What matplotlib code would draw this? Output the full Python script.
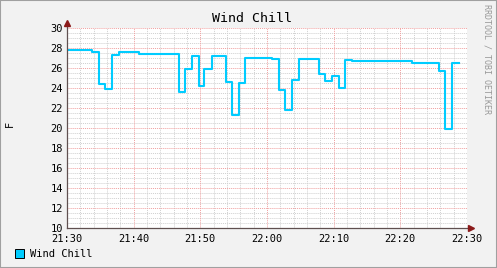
import matplotlib
matplotlib.use("Agg")
import matplotlib.pyplot as plt
from matplotlib.patches import Rectangle
import numpy as np

# minutes after 21:30 where the value changes
times = [0, 3.7, 4.8, 5.7, 6.7, 7.8, 10.8, 16.8, 17.65, 18.8, 19.8, 20.6, 21.8,
         23.8, 24.8, 25.8, 26.7, 30.7, 31.8, 32.75, 33.75, 34.8, 37.8, 38.75,
         39.75, 40.8, 41.7, 42.75, 51.75, 55.8, 56.7, 57.7]
values = [27.8, 27.6, 24.4, 23.9, 27.3, 27.6, 27.45, 23.6, 25.9, 27.2, 24.2, 25.9,
          27.25, 24.6, 21.35, 24.5, 27.05, 26.95, 23.8, 21.8, 24.8, 26.95, 25.4,
          24.7, 25.2, 24.0, 26.85, 26.75, 26.55, 25.7, 19.95, 26.55]
end_time = 58.8
xtick_labels = ["21:30", "21:40", "21:50", "22:00", "22:10", "22:20", "22:30"]
yticks = [10, 12, 14, 16, 18, 20, 22, 24, 26, 28, 30]
title = "Wind Chill"
ylabel = "F"
series_name = "Wind Chill"

W, H = 497, 268
fig = plt.figure(figsize=(W / 100, H / 100), dpi=100)
fig.patch.set_facecolor("#F2F2F2")
mono = "DejaVu Sans Mono"

x0, x1 = 67, 467
ytop, ybot = 28, 228
ax = fig.add_axes([x0 / W, 1 - ybot / H, (x1 - x0) / W, (ybot - ytop) / H])
ax.set_facecolor("white")
ax.set_xlim(0, 60)
ax.set_ylim(10, 30)

# grid
for m in np.arange(0, 61, 2):
    if m % 10:
        ax.axvline(m, color="#D0D0D0", lw=0.7, ls=(0, (1, 1)), zorder=1)
for v in np.arange(10, 30.01, 0.5):
    if v % 2:
        ax.axhline(v, color="#D0D0D0", lw=0.7, ls=(0, (1, 1)), zorder=1)
for m in range(0, 61, 10):
    ax.axvline(m, color="#F0A0A0", lw=0.7, ls=(0, (1, 1)), zorder=1)
for v in yticks:
    ax.axhline(v, color="#F0A0A0", lw=0.7, ls=(0, (1, 1)), zorder=1)

xs = times + [end_time]
ys = values + [values[-1]]
ax.step(xs, ys, where="post", color="#00CCFF", lw=1.5, zorder=3)

for s in ax.spines.values():
    s.set_visible(False)
ax.set_xticks(range(0, 61, 10))
ax.set_xticklabels(xtick_labels, fontfamily=mono, fontsize=7.5)
ax.set_yticks(yticks)
ax.set_yticklabels([str(v) for v in yticks], fontfamily=mono, fontsize=7.5)
ax.tick_params(axis="y", length=0, pad=3)
ax.tick_params(axis="x", length=0, pad=4)

# axes with arrow heads
ax.plot([0, 0], [10, 30.5], color="#605050", lw=0.9, zorder=4, clip_on=False)
ax.plot([0, 60.6], [10, 10], color="#605050", lw=0.9, zorder=4, clip_on=False)
ax.plot([0], [30.5], marker="^", color="#8B1A1A", ms=4.5, zorder=5, clip_on=False)
ax.plot([60.6], [10], marker=">", color="#8B1A1A", ms=4.5, zorder=5, clip_on=False)

fig.text(252 / W, 1 - 18 / H, title, ha="center", va="center",
         fontfamily=mono, fontsize=9.5)
fig.text(10 / W, 1 - 124 / H, ylabel, ha="center", va="center", rotation=90,
         fontfamily=mono, fontsize=7.5)
fig.text(487 / W, 1 - 59 / H, "RRDTOOL / TOBI OETIKER", ha="center", va="center",
         rotation=270, fontfamily=mono, fontsize=6, color="#999999")

fig.patches.append(Rectangle((15 / W, 1 - 258 / H), 9 / W, 9 / H,
                             transform=fig.transFigure, facecolor="#00CCFF",
                             edgecolor="black", lw=0.7))
fig.text(30 / W, 1 - 254 / H, series_name, ha="left", va="center",
         fontfamily=mono, fontsize=7.5)

# border
fig.patches.append(Rectangle((0, 0), 1, 1, transform=fig.transFigure,
                             fill=False, edgecolor="#A0A0A0", lw=1.5))

fig.savefig("out.png", dpi=100, facecolor=fig.get_facecolor())
